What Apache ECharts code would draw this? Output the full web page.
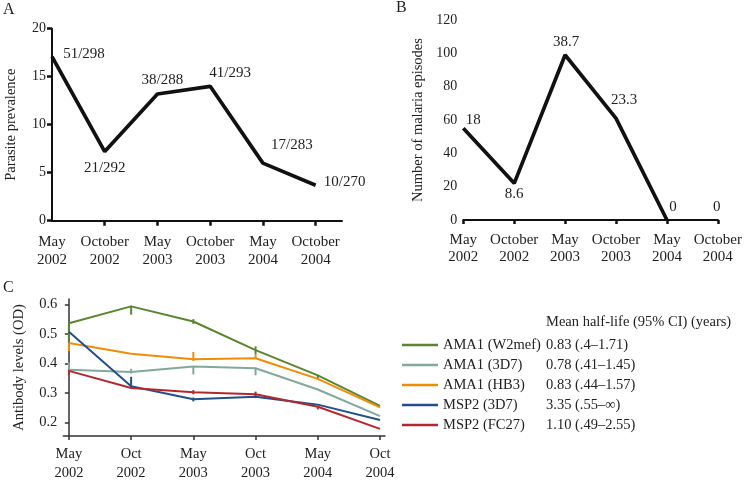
<!DOCTYPE html>
<html>
<head>
<meta charset="utf-8">
<script src="https://cdn.jsdelivr.net/npm/echarts@6/dist/echarts.min.js"></script>
<style>
  html, body { margin: 0; padding: 0; background: #fff; }
  #chart { width: 745px; height: 483px; }
</style>
</head>
<body>
<div id="chart"></div>
<script>
// panel A + B categories
const monthsLong = ['May\n2002', 'October\n2002', 'May\n2003', 'October\n2003', 'May\n2004', 'October\n2004']
// panel C categories
const monthsShort = ['May\n2002', 'Oct\n2002', 'May\n2003', 'Oct\n2003', 'May\n2004', 'Oct\n2004']

// A: parasite prevalence (%)
const prevalence = [17.1, 7.2, 13.2, 14.0, 6.0, 3.7]
const prevalenceLabels = ['51/298', '21/292', '38/288', '41/293', '17/283', '10/270']

// B: number of malaria episodes (line stops at May 2004)
const episodes = [55, 22, 99, 61, 0, 0]
const episodeLabels = ['18', '8.6', '38.7', '23.3', '0', '0']

// C: antibody levels (OD)
const antigenNames = ['AMA1 (W2mef)', 'AMA1 (3D7)', 'AMA1 (HB3)', 'MSP2 (3D7)', 'MSP2 (FC27)']
const halfLives = ['0.83 (.4–1.71)', '0.78 (.41–1.45)', '0.83 (.44–1.57)', '3.35 (.55–∞)', '1.10 (.49–2.55)']
const ama1W2mef = [0.536, 0.593, 0.542, 0.445, 0.36, 0.257]
const ama13D7 = [0.379, 0.371, 0.39, 0.384, 0.312, 0.222]
const ama1HB3 = [0.469, 0.433, 0.414, 0.418, 0.348, 0.252]
const msp23D7 = [0.507, 0.323, 0.279, 0.288, 0.261, 0.209]
const msp2FC27 = [0.375, 0.317, 0.303, 0.296, 0.254, 0.179]
// error bar segments [index, low, high]
const errW2mef = [[0, 0.47, 0.538], [1, 0.565, 0.595], [2, 0.534, 0.55], [3, 0.43, 0.458], [4, 0.35, 0.362]]
const err3D7 = [[0, 0.377, 0.404], [1, 0.366, 0.382], [2, 0.363, 0.391], [3, 0.36, 0.385]]
const errHB3 = [[0, 0.442, 0.469], [2, 0.409, 0.439], [3, 0.418, 0.43]]
const errMsp3D7 = [[1, 0.317, 0.355], [2, 0.272, 0.285], [3, 0.283, 0.293]]
const errFC27 = [[0, 0.36, 0.38], [2, 0.296, 0.31], [3, 0.29, 0.305], [4, 0.245, 0.256]]

const font = 'Liberation Serif'
const ink = '#222'
const colorsC = ['#5b8531', '#82a99b', '#f18d05', '#21508a', '#b3282f']

const labelOffA = [[32, -2], [0, 16], [5, -14], [20, -13], [29, -18], [29, -3]]
const labelOffB = [[10, -8], [0, 11], [1, -13], [8, -18], [6, -13], [-1, -13]]

const chart = echarts.init(document.getElementById('chart'))

function axisBase(width, color) {
    return {
        axisLine: { lineStyle: { color: color, width: width } },
        axisTick: { lineStyle: { color: color, width: width } },
        splitLine: { show: false }
    }
}

function errBars(data, color) {
    return {
        type: 'custom',
        xAxisIndex: 2,
        yAxisIndex: 2,
        silent: true,
        z: 3,
        data: data,
        renderItem: (params, api) => {
            let p1 = api.coord([api.value(0), api.value(1)])
            let p2 = api.coord([api.value(0), api.value(2)])
            return {
                type: 'line',
                shape: { x1: p1[0], y1: p1[1], x2: p2[0], y2: p2[1] },
                style: { stroke: color, lineWidth: 2 }
            }
        }
    }
}

const seriesC = [ama1W2mef, ama13D7, ama1HB3, msp23D7, msp2FC27]
const errsC = [errW2mef, err3D7, errHB3, errMsp3D7, errFC27]

const dataLabel = {
    show: true, position: 'inside', fontSize: 15, color: ink, fontFamily: font,
    textBorderWidth: 0, textShadowBlur: 0
}

const option = {
    animation: false,
    textStyle: { fontFamily: font, color: ink },
    grid: [
        { left: 52, top: 28.7, width: 290, height: 192 },
        { left: 463.3, top: 20, width: 257.5, height: 200 },
        { left: 63.3, top: 299, width: 321.7, height: 142.7 }
    ],
    xAxis: [
        {
            gridIndex: 0, type: 'value', min: 0, max: 5.5,
            ...axisBase(2, '#111'),
            axisTick: { length: 5, lineStyle: { color: '#111', width: 2.5 }, customValues: [1, 2, 3, 4, 5] },
            axisLabel: {
                customValues: [0, 1, 2, 3, 4, 5], formatter: v => monthsLong[v],
                fontSize: 15, lineHeight: 17.6, margin: 13, color: ink, fontFamily: font
            }
        },
        {
            gridIndex: 1, type: 'category', boundaryGap: false, data: monthsLong,
            ...axisBase(2, '#111'),
            axisTick: { length: 4, lineStyle: { color: '#111', width: 2.5 } },
            axisLabel: { fontSize: 15, lineHeight: 17.6, margin: 11, color: ink, fontFamily: font, interval: 0 }
        },
        {
            gridIndex: 2, type: 'value', min: -0.09, max: 5.08,
            ...axisBase(1.5, '#333'),
            axisTick: { length: 4, lineStyle: { color: '#333', width: 1.5 }, customValues: [0, 1, 2, 3, 4, 5] },
            axisLabel: {
                customValues: [0, 1, 2, 3, 4, 5], formatter: v => monthsShort[v],
                fontSize: 14.5, lineHeight: 19.5, margin: 8, color: ink, fontFamily: font
            }
        }
    ],
    yAxis: [
        {
            gridIndex: 0, type: 'value', min: 0, max: 20, interval: 5,
            ...axisBase(2, '#111'),
            axisTick: { length: 5, lineStyle: { color: '#111', width: 2.5 } },
            axisLabel: { fontSize: 14, margin: 6, color: ink, fontFamily: font },
            name: 'Parasite prevalence', nameLocation: 'middle', nameGap: 33,
            nameTextStyle: { fontSize: 14.5, color: ink, fontFamily: font }
        },
        {
            gridIndex: 1, type: 'value', min: 0, max: 120, interval: 20,
            ...axisBase(2, '#111'),
            axisTick: { length: 4, lineStyle: { color: '#111', width: 2.5 } },
            axisLabel: { fontSize: 14, margin: 6, color: ink, fontFamily: font },
            name: 'Number of malaria episodes', nameLocation: 'middle', nameGap: 38,
            nameTextStyle: { fontSize: 14.5, color: ink, fontFamily: font }
        },
        {
            gridIndex: 2, type: 'value', min: 0.155, max: 0.618,
            ...axisBase(1.5, '#333'),
            axisTick: { length: 4, lineStyle: { color: '#333', width: 1.5 }, customValues: [0.2, 0.3, 0.4, 0.5, 0.6] },
            axisLabel: {
                customValues: [0.2, 0.3, 0.4, 0.5, 0.6], formatter: v => v.toFixed(1),
                fontSize: 14.5, margin: 6, color: ink, fontFamily: font
            },
            name: 'Antibody levels (OD)', nameLocation: 'middle', nameGap: 37,
            nameTextStyle: { fontSize: 14.5, color: ink, fontFamily: font }
        }
    ],
    legend: {
        data: antigenNames,
        orient: 'vertical',
        left: 402,
        top: 337,
        padding: 0,
        icon: 'rect',
        itemWidth: 36,
        itemHeight: 2.5,
        itemGap: 4,
        formatter: name => `{n|${name}}{v|${halfLives[antigenNames.indexOf(name)]}}`,
        textStyle: {
            fontFamily: font, color: ink, fontSize: 14.5, lineHeight: 16,
            rich: {
                n: { width: 103, fontFamily: font, fontSize: 14.5, color: ink },
                v: { fontFamily: font, fontSize: 14.5, color: ink }
            }
        }
    },
    graphic: [
        { type: 'text', left: 3, top: 2, style: { text: 'A', font: '16px "Liberation Serif"', fill: ink } },
        { type: 'text', left: 396, top: 0, style: { text: 'B', font: '16px "Liberation Serif"', fill: ink } },
        { type: 'text', left: 3, top: 280, style: { text: 'C', font: '16px "Liberation Serif"', fill: ink } },
        { type: 'text', left: 546, top: 315, style: { text: 'Mean half-life (95% CI) (years)', font: '14.5px "Liberation Serif"', fill: ink } }
    ],
    series: [
        {
            type: 'line', xAxisIndex: 0, yAxisIndex: 0,
            data: prevalence.map((v, i) => [i, v]),
            showSymbol: false, lineStyle: { color: '#111', width: 3.7 }, z: 3
        },
        {
            type: 'scatter', xAxisIndex: 0, yAxisIndex: 0, symbolSize: 0, silent: true,
            itemStyle: { opacity: 1 },
            data: prevalence.map((v, i) => ({
                value: [i, v],
                label: { offset: labelOffA[i], formatter: prevalenceLabels[i] }
            })),
            label: dataLabel
        },
        {
            type: 'line', xAxisIndex: 1, yAxisIndex: 1,
            data: episodes.slice(0, 5),
            showSymbol: false, lineStyle: { color: '#111', width: 3.7 }, z: 3
        },
        {
            type: 'scatter', xAxisIndex: 1, yAxisIndex: 1, symbolSize: 0, silent: true,
            itemStyle: { opacity: 1 },
            data: episodes.map((v, i) => ({
                value: v,
                label: { offset: labelOffB[i], formatter: episodeLabels[i] }
            })),
            label: dataLabel
        },
        ...seriesC.map((d, k) => ({
            type: 'line', name: antigenNames[k], xAxisIndex: 2, yAxisIndex: 2,
            data: d.map((v, i) => [i, v]),
            showSymbol: false, color: colorsC[k], lineStyle: { color: colorsC[k], width: 2 }
        })),
        ...errsC.map((d, k) => errBars(d, colorsC[k]))
    ]
}

chart.setOption(option)
</script>
</body>
</html>
